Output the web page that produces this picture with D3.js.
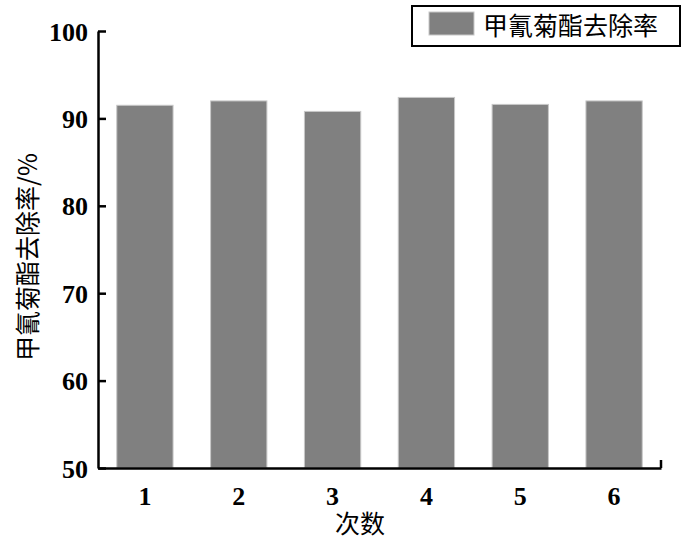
<!DOCTYPE html>
<html>
<head>
<meta charset="utf-8">
<script src="https://cdn.jsdelivr.net/npm/d3@7"></script>
<style>
  body { margin: 0; background: #fff; }
  .num { font-family: "Liberation Serif", "DejaVu Serif", serif; font-weight: bold; font-size: 26px; }
  .cjk { font-family: "Noto Sans CJK SC", sans-serif; font-size: 25px; }
</style>
</head>
<body>
<div id="chart"></div>
<script>
// data
var runs = ["1", "2", "3", "4", "5", "6"];
var removal = [91.5, 92.0, 90.8, 92.4, 91.6, 92.0];
var yTicks = [50, 60, 70, 80, 90, 100];
var seriesName = "甲氰菊酯去除率";

var width = 700, height = 546;
var margin = {top: 31, right: 39, bottom: 78, left: 98};

var svg = d3.select("#chart").append("svg")
  .attr("width", width)
  .attr("height", height);

var x = d3.scaleBand()
  .domain(runs)
  .range([margin.left, width - margin.right])
  .paddingInner(0.4)
  .paddingOuter(0.2);

var y = d3.scaleLinear()
  .domain([50, 100])
  .range([height - margin.bottom, margin.top]);

// bars
svg.append("g").selectAll("rect")
  .data(runs)
  .enter().append("rect")
  .attr("x", function(d) { return x(d); })
  .attr("y", function(d, i) { return y(removal[i]); })
  .attr("width", x.bandwidth())
  .attr("height", function(d, i) { return y(50) - y(removal[i]); })
  .attr("fill", "#808080")
  .attr("stroke", "#c8c8c8")
  .attr("stroke-width", 1);

// y axis, ticks point inward
var yAxis = svg.append("g")
  .attr("transform", "translate(" + margin.left + ",0)")
  .call(d3.axisRight(y).tickValues(yTicks).tickSize(8).tickSizeOuter(0).tickFormat(d3.format("d")));
yAxis.attr("font-size", null).attr("font-family", null);
yAxis.select(".domain").attr("stroke", "#000").attr("stroke-width", 2.5);
yAxis.selectAll(".tick line").attr("stroke", "#000").attr("stroke-width", 2.5);
yAxis.selectAll(".tick text")
  .attr("class", "num")
  .attr("x", -10)
  .attr("dy", "0.35em")
  .attr("text-anchor", "end")
  .attr("fill", "#000");

// x axis with a small upturned end at the right
var xAxis = svg.append("g")
  .attr("transform", "translate(0," + y(50) + ")")
  .call(d3.axisBottom(x).tickSize(0).tickSizeOuter(0));
xAxis.attr("font-size", null).attr("font-family", null);
xAxis.select(".domain").attr("stroke", "#000").attr("stroke-width", 2.5);
xAxis.selectAll(".tick text")
  .attr("class", "num")
  .attr("y", 37)
  .attr("dy", 0)
  .attr("fill", "#000");
svg.append("line")
  .attr("x1", x.range()[1]).attr("x2", x.range()[1])
  .attr("y1", y(50)).attr("y2", y(50) - 8)
  .attr("stroke", "#000").attr("stroke-width", 2.5);

// axis titles
svg.append("text")
  .attr("class", "cjk")
  .attr("x", 360)
  .attr("y", 533)
  .attr("text-anchor", "middle")
  .text("次数");

svg.append("text")
  .attr("class", "cjk")
  .attr("transform", "translate(37,257) rotate(-90)")
  .attr("text-anchor", "middle")
  .text(seriesName + "/%");

// legend
var legend = svg.append("g").attr("transform", "translate(412,6)");
legend.append("rect")
  .attr("width", 268).attr("height", 40)
  .attr("fill", "#fff").attr("stroke", "#000").attr("stroke-width", 2);
legend.append("rect")
  .attr("x", 17).attr("y", 6).attr("width", 45).attr("height", 23)
  .attr("fill", "#808080").attr("stroke", "#c8c8c8");
legend.append("text")
  .attr("class", "cjk")
  .attr("x", 71).attr("y", 29)
  .text(seriesName);
</script>
</body>
</html>
